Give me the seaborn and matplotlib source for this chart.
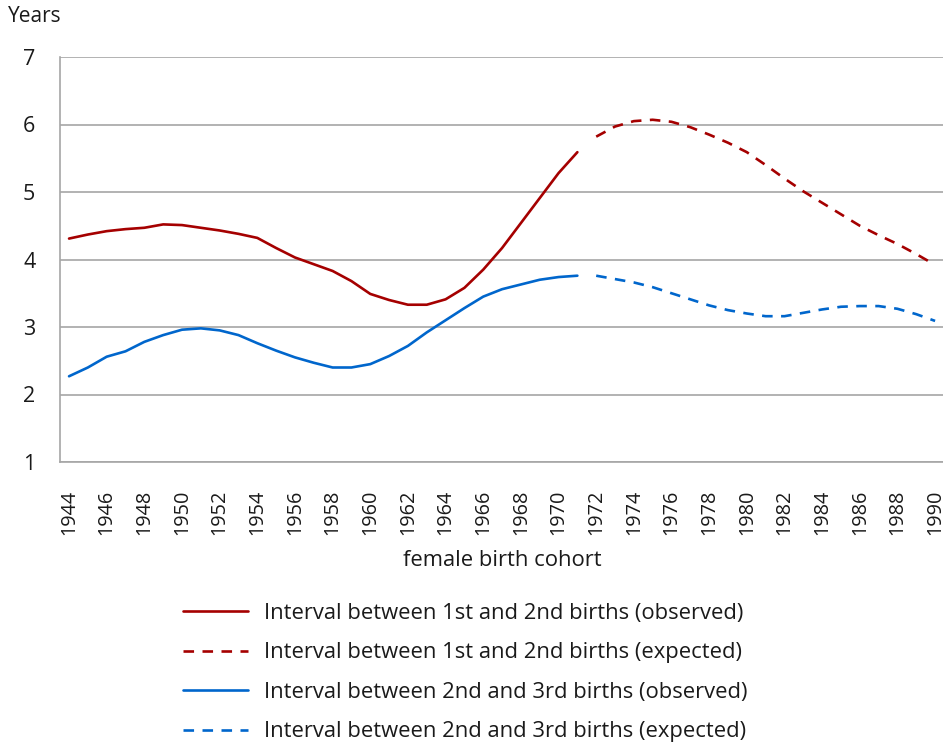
import matplotlib
matplotlib.use("Agg")
import matplotlib.pyplot as plt
import seaborn as sns
import pandas as pd

years_obs = list(range(1944, 1972))
years_exp = list(range(1972, 1991))

first_second_obs = [4.31, 4.37, 4.42, 4.45, 4.47, 4.52, 4.51, 4.47, 4.43, 4.38,
                    4.32, 4.17, 4.03, 3.93, 3.83, 3.68, 3.49, 3.40, 3.33, 3.33,
                    3.41, 3.58, 3.85, 4.17, 4.54, 4.91, 5.28, 5.59]
first_second_exp = [5.82, 5.97, 6.05, 6.07, 6.04, 5.96, 5.85, 5.73, 5.59, 5.40,
                    5.20, 5.01, 4.84, 4.67, 4.50, 4.36, 4.23, 4.08, 3.92]
second_third_obs = [2.27, 2.40, 2.56, 2.64, 2.78, 2.88, 2.96, 2.98, 2.95, 2.88,
                    2.76, 2.65, 2.55, 2.47, 2.40, 2.40, 2.45, 2.57, 2.72, 2.92,
                    3.10, 3.28, 3.45, 3.56, 3.63, 3.70, 3.74, 3.76]
second_third_exp = [3.76, 3.71, 3.66, 3.59, 3.50, 3.41, 3.32, 3.25, 3.20, 3.16,
                    3.16, 3.21, 3.26, 3.30, 3.31, 3.31, 3.27, 3.19, 3.09]

labels = ["Interval between 1st and 2nd births (observed)",
          "Interval between 1st and 2nd births (expected)",
          "Interval between 2nd and 3rd births (observed)",
          "Interval between 2nd and 3rd births (expected)"]
x_ticks = list(range(1944, 1991, 2))
y_ticks = [1, 2, 3, 4, 5, 6, 7]

sns.set_style("white")
plt.rcParams['font.family'] = ['Open Sans', 'DejaVu Sans']

W, H = 943, 743
fig = plt.figure(figsize=(W / 100, H / 100), dpi=100)
left, right, top, bottom = 60, 943, 57, 462
ax = fig.add_axes([left / W, 1 - bottom / H, (right - left) / W, (bottom - top) / H])

red = "#A50000"
blue = "#0066CC"
grid_c = "#A6A6A6"
txt_c = "#1a1a1a"
lw = 1.9
dash = (4, 3.2)

series = [
    (years_obs, first_second_obs, labels[0], red, False),
    (years_exp, first_second_exp, labels[1], red, True),
    (years_obs, second_third_obs, labels[2], blue, False),
    (years_exp, second_third_exp, labels[3], blue, True),
]
for xs, ys, lab, col, dashed in series:
    df = pd.DataFrame({"year": xs, "value": ys})
    sns.lineplot(data=df, x="year", y="value", ax=ax, color=col, lw=lw,
                 label=lab, legend=False)
    if dashed:
        ax.lines[-1].set_dashes(dash)

ax.set_xlim(1943.52, 1990.42)
ax.set_ylim(1, 7)
ax.set_xticks(x_ticks)
ax.set_xticklabels([str(t) for t in x_ticks], rotation=90)
ax.set_yticks(y_ticks)
ax.set_xlabel("")
ax.set_ylabel("")
ax.yaxis.grid(True, color=grid_c, lw=1.2)
ax.set_axisbelow(True)
for s in ["top", "right"]:
    ax.spines[s].set_visible(False)
for s in ["left", "bottom"]:
    ax.spines[s].set_color(grid_c)
    ax.spines[s].set_linewidth(1.2)
ax.tick_params(axis="both", which="major", colors=txt_c,
               length=10.8, width=1.2, direction="out")
ax.tick_params(axis="x", pad=9, color=grid_c, labelsize=14.3)
ax.tick_params(axis="y", pad=7, color=grid_c, labelsize=15.5)

fig.text(8 / W, 1 - 16 / H, "Years", ha="left", va="center", fontsize=15, color=txt_c)
fig.text(502 / W, 1 - 560 / H, "female birth cohort", ha="center", va="center",
         fontsize=15.8, color=txt_c)

handles = ax.lines[:4]
fig.legend(handles, labels, loc="upper left", bbox_to_anchor=(183 / W, 1 - 603 / H),
           frameon=False, fontsize=15.8, handlelength=2.95, handletextpad=0.76,
           labelspacing=0.84, borderpad=0, borderaxespad=0, labelcolor=txt_c)

fig.savefig("out.png", dpi=100)
